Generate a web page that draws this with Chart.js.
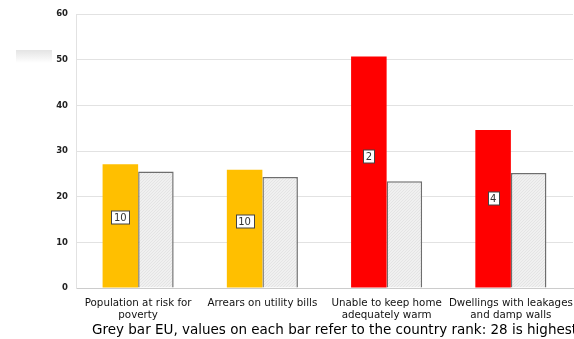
<!DOCTYPE html>
<html>
<head>
<meta charset="utf-8">
<script src="https://cdn.jsdelivr.net/npm/chart.js@4.4.1/dist/chart.umd.min.js"></script>
<style>
  html, body { margin: 0; padding: 0; background: #fff; }
  #wrap { position: relative; width: 574px; height: 339px; overflow: hidden; }
  #swatch { position: absolute; left: 16px; top: 50px; width: 36px; height: 13px;
            background: linear-gradient(#e4e4e4, #ffffff); }
  canvas { position: absolute; left: 0; top: 0; }
</style>
</head>
<body>
<div id="wrap">
  <div id="swatch"></div>
  <canvas id="c" width="574" height="339"></canvas>
</div>
<script>
// Housing and poverty indicators (%), country vs EU average
const categories = [
  ['Population at risk for', 'poverty'],
  ['Arrears on utility bills'],
  ['Unable to keep home', 'adequately warm'],
  ['Dwellings with leakages', 'and damp walls']
];
const countryValues = [27.1, 25.9, 50.7, 34.6];
const euValues = [25.5, 24.3, 23.4, 25.2];
const countryRanks = [10, 10, 2, 4];
const barColors = ['#FFBF00', '#FFBF00', '#FF0000', '#FF0000'];
const yTicks = [0, 10, 20, 30, 40, 50, 60];
const footnote = 'Grey bar EU, values on each bar refer to the country rank: 28 is highest';

// light diagonal hatch for the EU bars
function hatch() {
  const p = document.createElement('canvas');
  p.width = 3; p.height = 3;
  const g = p.getContext('2d');
  g.fillStyle = '#f0f0f0';
  g.fillRect(0, 0, 3, 3);
  g.fillStyle = '#e4e4e4';
  g.fillRect(2, 0, 1, 1);
  g.fillRect(1, 1, 1, 1);
  g.fillRect(0, 2, 1, 1);
  return g.createPattern(p, 'repeat');
}

const rankLabels = {
  id: 'rankLabels',
  afterDatasetsDraw(chart) {
    const ctx = chart.ctx;
    const meta = chart.getDatasetMeta(0);
    const y = chart.scales.y;
    ctx.save();
    ctx.font = '10px "DejaVu Sans", Verdana, sans-serif';
    ctx.textAlign = 'center';
    ctx.textBaseline = 'middle';
    meta.data.forEach((bar, i) => {
      const txt = String(countryRanks[i]);
      const cy = Math.round(y.getPixelForValue(countryValues[i] * 0.57)) + 0.5;
      const w = Math.round(ctx.measureText(txt).width) + 5;
      const h = 13;
      const x0 = Math.round(bar.x - w / 2) + 0.5;
      ctx.fillStyle = '#ffffff';
      ctx.fillRect(x0, cy - h / 2, w, h);
      ctx.strokeStyle = '#444444';
      ctx.lineWidth = 1;
      ctx.strokeRect(x0, cy - h / 2, w, h);
      ctx.fillStyle = '#333333';
      ctx.fillText(txt, bar.x, cy + 0.5);
    });
    ctx.restore();
  }
};

const footnoteText = {
  id: 'footnoteText',
  afterDraw(chart) {
    const ctx = chart.ctx;
    ctx.save();
    ctx.font = '13.5px "DejaVu Sans", Verdana, sans-serif';
    ctx.fillStyle = '#000000';
    ctx.textAlign = 'left';
    ctx.textBaseline = 'middle';
    ctx.fillText(footnote, 92, 330);
    ctx.restore();
  }
};

new Chart(document.getElementById('c'), {
  type: 'bar',
  data: {
    labels: categories,
    datasets: [
      { data: countryValues, backgroundColor: barColors, borderWidth: 0,
        barPercentage: 1, categoryPercentage: 0.572 },
      { data: euValues, backgroundColor: hatch(), borderColor: '#6e6e6e', borderWidth: 1.5,
        barPercentage: 1, categoryPercentage: 0.572 }
    ]
  },
  options: {
    responsive: false,
    animation: false,
    layout: { padding: { left: 0, top: 14, right: 1, bottom: 0 } },
    plugins: { legend: { display: false }, tooltip: { enabled: false }, title: { display: false } },
    scales: {
      x: {
        grid: { display: false },
        border: { color: '#cccccc' },
        ticks: { font: { family: '"DejaVu Sans", Verdana, sans-serif', size: 10.3, lineHeight: 1.2 },
                 color: '#111111', maxRotation: 0, autoSkip: false, padding: 1 },
        afterFit(s) { s.height = 51; }
      },
      y: {
        min: 0, max: 60,
        afterBuildTicks(s) { s.ticks = yTicks.map(v => ({ value: v })); },
        grid: { color: '#e2e2e2', drawTicks: false },
        border: { color: '#e2e2e2' },
        ticks: { font: { family: '"DejaVu Sans", Verdana, sans-serif', size: 8.5, weight: 'bold' },
                 color: '#222222', padding: 8 },
        afterFit(s) { s.width = 76; }
      }
    }
  },
  plugins: [rankLabels, footnoteText]
});
</script>
</body>
</html>
